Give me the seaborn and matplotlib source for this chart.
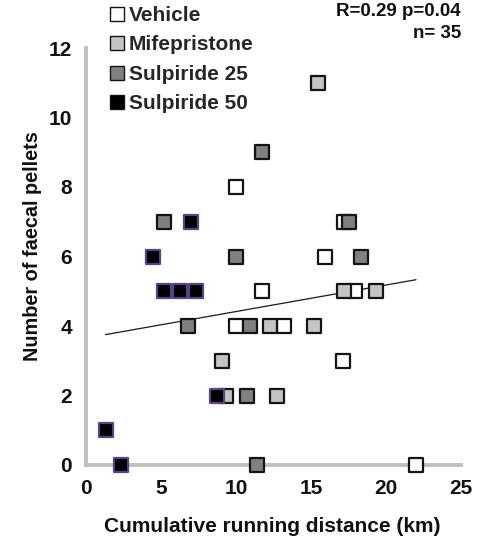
import numpy as np
import pandas as pd
import matplotlib
matplotlib.use("Agg")
import matplotlib.pyplot as plt
from matplotlib.lines import Line2D
import seaborn as sns

# Cumulative running distance (km) and faecal pellet counts per treatment group
vehicle_km = [10.0, 17.2, 15.9, 11.7, 17.9, 10.0, 13.2, 17.15, 22.0]
vehicle_pellets = [8, 7, 6, 5, 5, 4, 4, 3, 0]

mife_km = [15.45, 17.2, 19.3, 12.25, 15.2, 9.05, 9.3, 12.7]
mife_pellets = [11, 5, 5, 4, 4, 3, 2, 2]

sulp25_km = [5.2, 6.8, 10.0, 11.7, 17.5, 18.3, 10.9, 10.75, 11.4]
sulp25_pellets = [7, 4, 6, 9, 7, 6, 4, 2, 0]

sulp50_km = [1.3, 2.3, 4.45, 5.2, 6.27, 6.98, 7.3, 8.7]
sulp50_pellets = [1, 0, 6, 5, 5, 7, 5, 2]

groups = ["Vehicle", "Mifepristone", "Sulpiride 25", "Sulpiride 50"]
fills = ["#ffffff", "#c4c4c4", "#808080", "#000000"]
edges = ["#141414", "#141414", "#141414", "#5b4288"]

x_ticks = [0, 5, 10, 15, 20, 25]
y_ticks = [0, 2, 4, 6, 8, 10, 12]

stats_text = "R=0.29 p=0.04"
n_text = "n= 35"

df = pd.DataFrame({
    "km": vehicle_km + mife_km + sulp25_km + sulp50_km,
    "pellets": vehicle_pellets + mife_pellets + sulp25_pellets + sulp50_pellets,
    "group": (["Vehicle"] * len(vehicle_km) + ["Mifepristone"] * len(mife_km)
              + ["Sulpiride 25"] * len(sulp25_km) + ["Sulpiride 50"] * len(sulp50_km)),
})

sns.set_theme(style="white")
plt.rcParams["font.family"] = ["Liberation Sans", "DejaVu Sans"]
plt.rcParams["font.weight"] = "bold"

W, H = 493, 539
fig = plt.figure(figsize=(W / 100, H / 100), dpi=100)
ax = fig.add_axes([86 / W, 1 - 465 / H, 375 / W, 417 / H])

# Linear trend across all animals
sns.regplot(data=df, x="km", y="pellets", scatter=False, ci=None, truncate=True,
            line_kws={"color": "#1a1a1a", "lw": 0.9}, ax=ax)

for g, fc, ec in zip(groups, fills, edges):
    sub = df[df["group"] == g]
    sns.scatterplot(data=sub, x="km", y="pellets", marker="s", s=88,
                    color=fc, edgecolor=ec, linewidth=1.6, ax=ax,
                    clip_on=False, zorder=3, legend=False)

ax.set_xlim(0, 25)
ax.set_ylim(0, 12)
ax.set_xticks(x_ticks)
ax.set_yticks(y_ticks)
ax.tick_params(axis="both", which="both", direction="out", length=4, width=2,
               color="#c0c0c0", labelsize=15, labelcolor="#111111", pad=6)
for lab in ax.get_xticklabels() + ax.get_yticklabels():
    lab.set_fontweight("bold")
for side in ["top", "right"]:
    ax.spines[side].set_visible(False)
for side in ["left", "bottom"]:
    ax.spines[side].set_color("#c0c0c0")
    ax.spines[side].set_linewidth(2.8)

ax.set_xlabel("")
ax.set_ylabel("")
fig.text(272 / W, 1 - 527 / H, "Cumulative running distance (km)", ha="center",
         va="center", fontsize=15, fontweight="bold", color="#111111")
fig.text(33 / W, 1 - 246 / H, "Number of faecal pellets", ha="center", va="center",
         rotation=90, fontsize=14.3, fontweight="bold", color="#111111")

handles = [Line2D([], [], marker="s", linestyle="none", markersize=9.5,
                  markerfacecolor=fc, markeredgecolor="#141414", markeredgewidth=1.0)
           for fc in fills]
fig.legend(handles, groups, loc="upper left", bbox_to_anchor=(110 / W, 1 - 6 / H),
           frameon=False, prop={"size": 15, "weight": "bold"},
           handlelength=0.7, handletextpad=0.2, labelspacing=0.5, borderpad=0,
           borderaxespad=0)

fig.text(461 / W, 1 - 3 / H, stats_text, ha="right", va="top",
         fontsize=13.5, fontweight="bold", color="#111111")
fig.text(461 / W, 1 - 34 / H, n_text, ha="right", va="center",
         fontsize=13.5, fontweight="bold", color="#111111")

fig.savefig("out.png", dpi=100)
